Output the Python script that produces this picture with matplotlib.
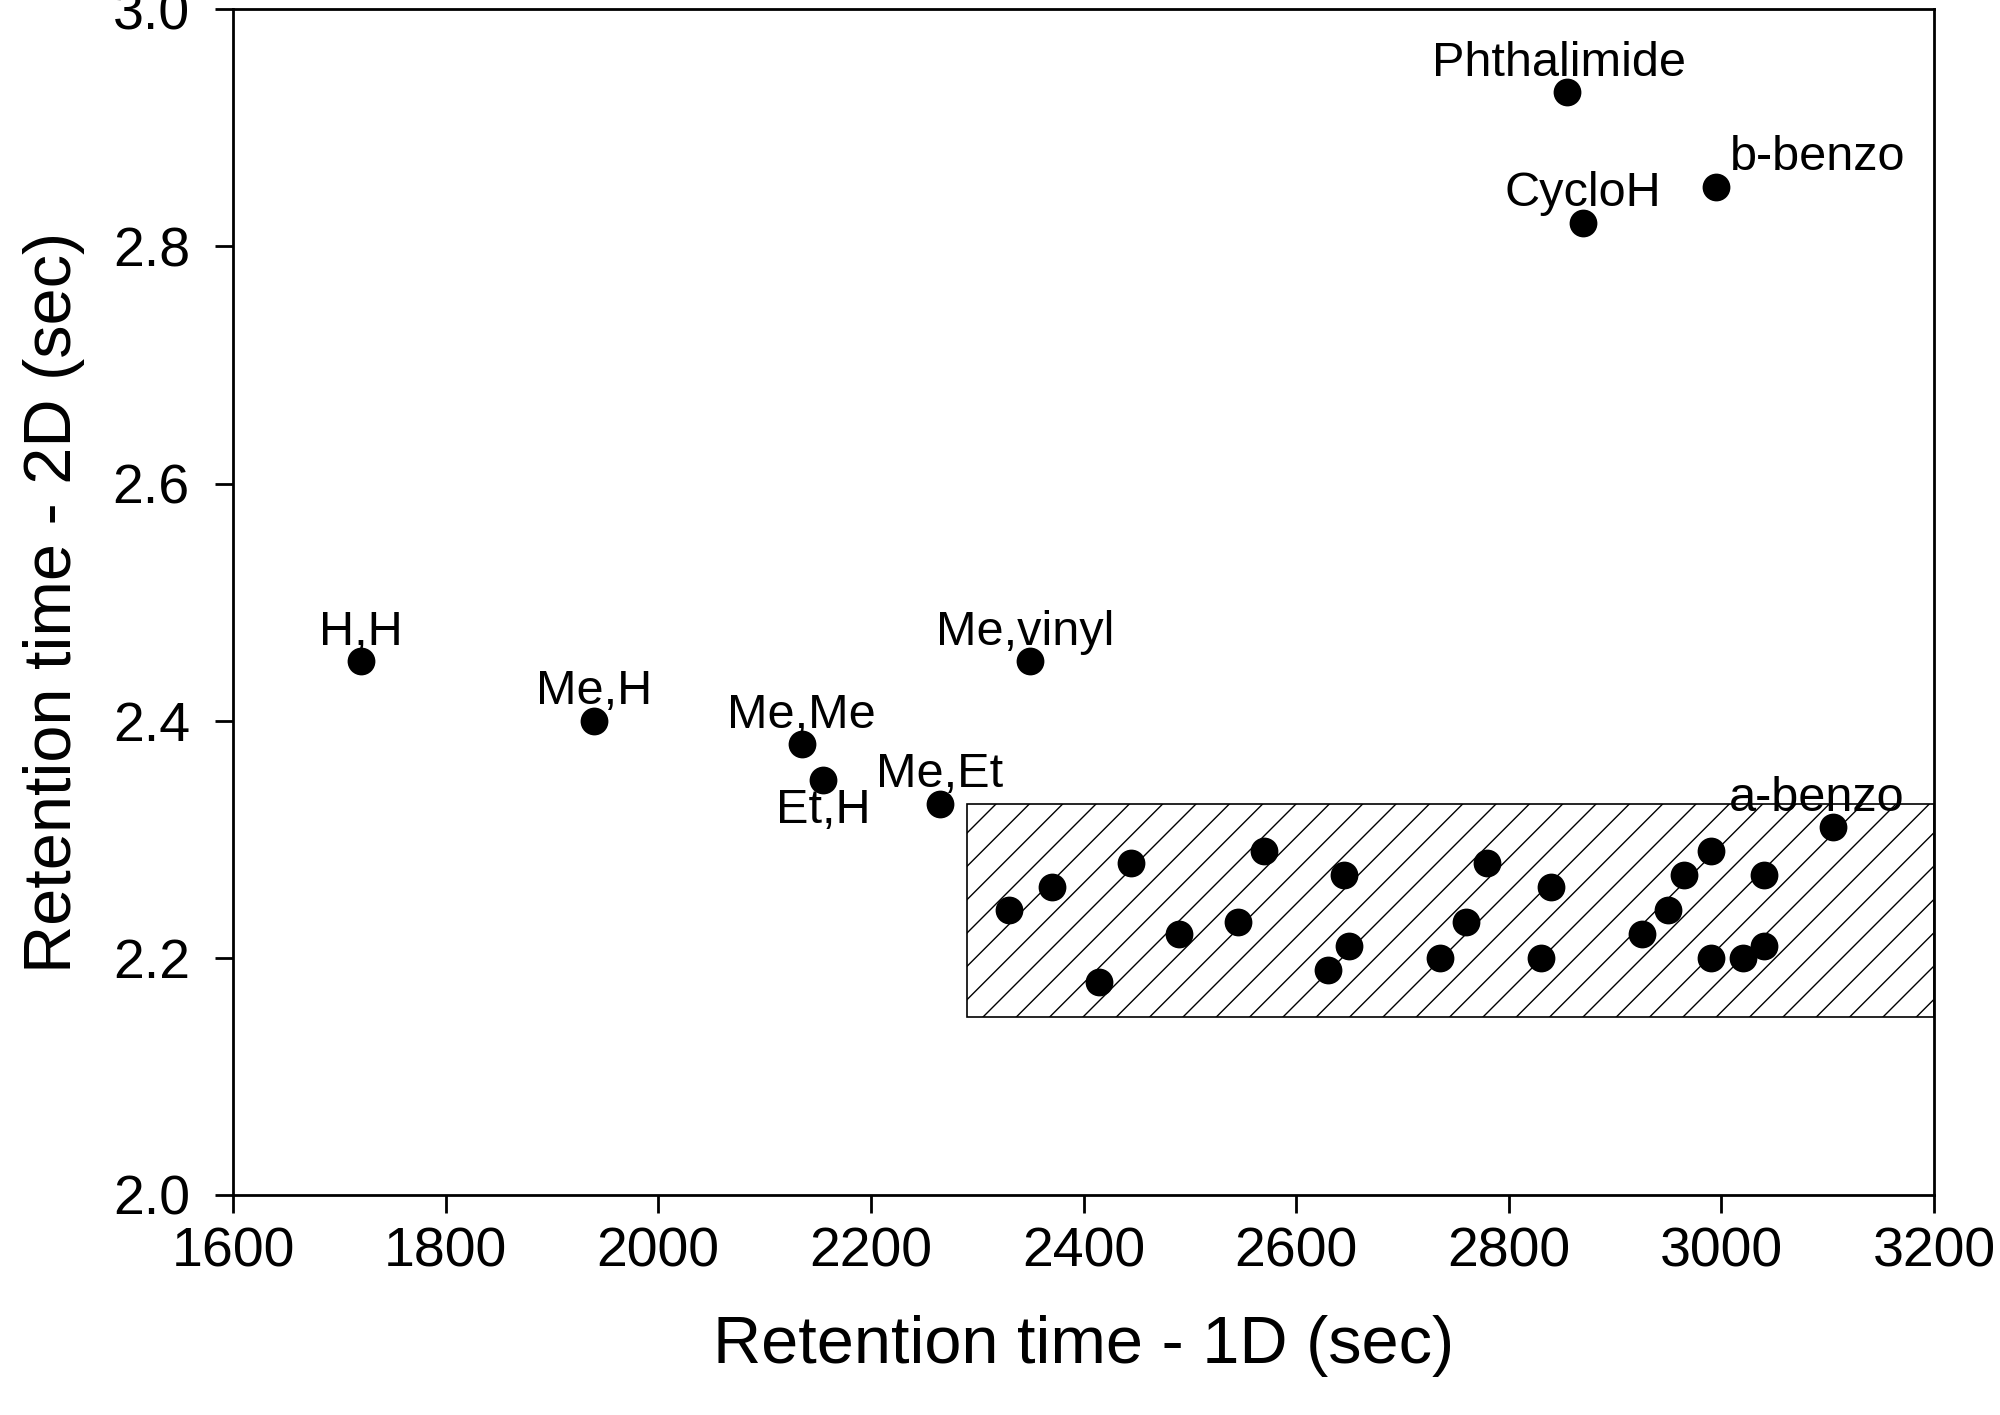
import matplotlib
matplotlib.use("Agg")
import matplotlib.pyplot as plt
from matplotlib.patches import Rectangle

plt.rcParams['font.family'] = ['Liberation Sans', 'DejaVu Sans']
plt.rcParams['hatch.linewidth'] = 0.5

# labelled compounds
names = ['H,H', 'Me,H', 'Me,Me', 'Et,H', 'Me,Et', 'Me,vinyl',
         'Phthalimide', 'CycloH', 'b-benzo', 'a-benzo']
rt1_named = [1720, 1940, 2135, 2155, 2265, 2350, 2855, 2870, 2995, 3105]
rt2_named = [2.45, 2.40, 2.38, 2.35, 2.33, 2.45, 2.93, 2.82, 2.85, 2.31]

# unlabelled compounds inside the hatched region
rt1_other = [2330, 2370, 2415, 2445, 2490, 2545, 2570, 2630, 2645, 2650,
             2735, 2760, 2780, 2830, 2840, 2925, 2950, 2965, 2990, 2990,
             3020, 3040, 3040]
rt2_other = [2.24, 2.26, 2.18, 2.28, 2.22, 2.23, 2.29, 2.19, 2.27, 2.21,
             2.20, 2.23, 2.28, 2.20, 2.26, 2.22, 2.24, 2.27, 2.29, 2.20,
             2.20, 2.21, 2.27]

# hatched window (1D range, 2D range)
box_rt1 = [2290, 3200]
box_rt2 = [2.15, 2.33]

fig = plt.figure(figsize=(10, 7.075), dpi=200)
ax = fig.add_axes([0.1165, 0.1555, 0.8505, 0.838])

ax.add_patch(Rectangle((box_rt1[0], box_rt2[0]), box_rt1[1] - box_rt1[0],
                       box_rt2[1] - box_rt2[0], facecolor='white',
                       edgecolor='black', linewidth=0.6, hatch='//', zorder=1))

ax.plot(rt1_named, rt2_named, 'o', color='black', markersize=9, zorder=3)
ax.plot(rt1_other, rt2_other, 'o', color='black', markersize=9, zorder=3)

# label offsets in points (dx, dy, ha)
offs = {'Et,H': (0, -11, 'center'), 'Me,vinyl': (-2, 10.5, 'center'),
        'Phthalimide': (-3, 10.5, 'center'), 'b-benzo': (5, 10.5, 'left'),
        'a-benzo': (-6, 10.5, 'center')}
for n, x, y in zip(names, rt1_named, rt2_named):
    dx, dy, ha = offs.get(n, (0, 10.5, 'center'))
    ax.annotate(n, (x, y), xytext=(dx, dy), textcoords='offset points',
                ha=ha, va='center', fontsize=17.5)

ax.set_xlim(1600, 3200)
ax.set_ylim(2.0, 3.0)
ax.set_xticks(range(1600, 3201, 200))
ax.set_yticks([2.0, 2.2, 2.4, 2.6, 2.8, 3.0])
ax.set_yticklabels(['2.0', '2.2', '2.4', '2.6', '2.8', '3.0'])
ax.tick_params(axis='both', direction='out', length=6.5, width=1.0, labelsize=20)
ax.tick_params(axis='y', pad=9)
ax.tick_params(axis='x', pad=5)
for s in ax.spines.values():
    s.set_linewidth(1.0)

ax.set_xlabel('Retention time - 1D (sec)', fontsize=24, labelpad=13)
ax.set_ylabel('Retention time - 2D (sec)', fontsize=24, labelpad=10)

fig.savefig('out.png', dpi=200)
